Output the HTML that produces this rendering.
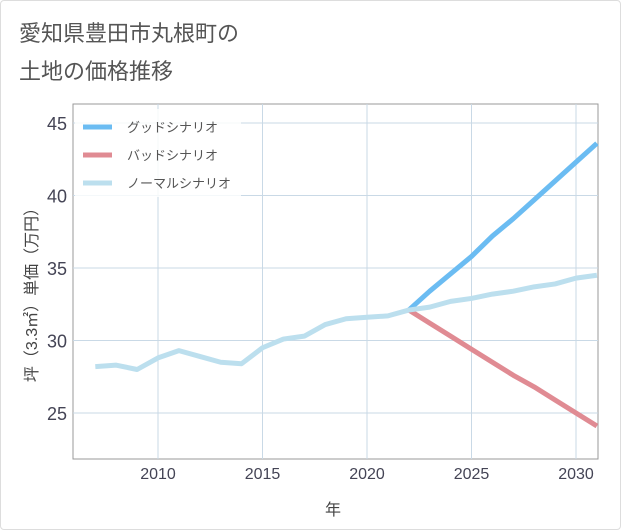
<!DOCTYPE html>
<html><head><meta charset="utf-8"><style>
body{margin:0;background:#fff;font-family:"Liberation Sans","Noto Sans CJK JP",sans-serif}
#wrap{position:relative;width:619px;height:528px;border:1px solid #ddd;border-radius:4px;overflow:hidden}
</style></head><body>
<div id="wrap">
<svg id="chart" width="621" height="530">
<text x="18" y="40" font-size="22" fill="#555">愛知県豊田市丸根町の</text>
<text x="18" y="78" font-size="22" fill="#555">土地の価格推移</text>
<g id="grid"></g><g id="series"></g><g id="ticks"></g>
<text x="332" y="514" font-size="16" fill="#444" text-anchor="middle">年</text>
<text transform="translate(36,290) rotate(-90)" font-size="16" fill="#444" text-anchor="middle">坪（3.3㎡）単価（万円）</text>
<g id="legend"></g>
</svg></div>
<script>
const years=[2007,2008,2009,2010,2011,2012,2013,2014,2015,2016,2017,2018,2019,2020,2021,2022,2023,2024,2025,2026,2027,2028,2029,2030,2031];
const normal=[28.2,28.3,28.0,28.8,29.3,28.9,28.5,28.4,29.5,30.1,30.3,31.1,31.5,31.6,31.7,32.1,32.3,32.7,32.9,33.2,33.4,33.7,33.9,34.3,34.5];
const futureYears=[2022,2023,2024,2025,2026,2027,2028,2029,2030,2031];
const good=[32.1,33.4,34.6,35.8,37.2,38.4,39.7,41.0,42.3,43.6];
const bad=[32.1,31.2,30.3,29.4,28.5,27.6,26.8,25.9,25.0,24.1];
const xTicks=[2010,2015,2020,2025,2030];
const yTicks=[25,30,35,40,45];
const legendLabels=["グッドシナリオ","バッドシナリオ","ノーマルシナリオ"];
const legendColors=["#6bbcf2","#e08b93","#bcdfee"];
const L=72,R=597,T=103,B=458;
const x=v=>157+(v-2010)*20.9;
const y=v=>412-(v-25)*14.5;
const NS="http://www.w3.org/2000/svg";
function mk(tag,attrs,parent){const e=document.createElementNS(NS,tag);for(const k in attrs)e.setAttribute(k,attrs[k]);document.getElementById(parent).appendChild(e);return e;}
let e=mk('rect',{x:L,y:T,width:R-L,height:B-T,fill:'none',stroke:'#999'},'grid');


xTicks.forEach(t=>{
 let l=mk('line',{x1:x(t),x2:x(t),y1:T,y2:B,stroke:'#c9d9e6'},'grid');
 
 
 let s=mk('text',{x:x(t),y:B+20,'font-size':16,fill:'#445','text-anchor':'middle'},'ticks');s.textContent=t;
 
 
});
yTicks.forEach(t=>{
 let l=mk('line',{x1:L,x2:R,y1:y(t),y2:y(t),stroke:'#c9d9e6'},'grid');
 
 
 let s=mk('text',{x:66,y:y(t)+7,'font-size':18,fill:'#445','text-anchor':'end'},'ticks');s.textContent=t;
 
 
});
function line(xs,vs,c,name){let p=mk('polyline',{points:xs.map((v,i)=>x(v)+','+y(vs[i])).join(' '),fill:'none',stroke:c,'stroke-width':5,'stroke-linejoin':'round'},'series');
 
 }
line(futureYears,good,legendColors[0],'good-scenario-line');
line(futureYears,bad,legendColors[1],'bad-scenario-line');
line(years,normal,legendColors[2],'normal-scenario-line');
let bg=mk('rect',{x:74,y:108,width:166,height:88,fill:'#fff','fill-opacity':0.8},'legend');


legendLabels.forEach((lb,i)=>{
 const yy=126+i*28;
 let l=mk('line',{x1:82,x2:111,y1:yy,y2:yy,stroke:legendColors[i],'stroke-width':5},'legend');
 
 
 let t=mk('text',{x:126,y:yy+5,'font-size':13,fill:'#555'},'legend');t.textContent=lb;
 
 
});
</script>
</body></html>
